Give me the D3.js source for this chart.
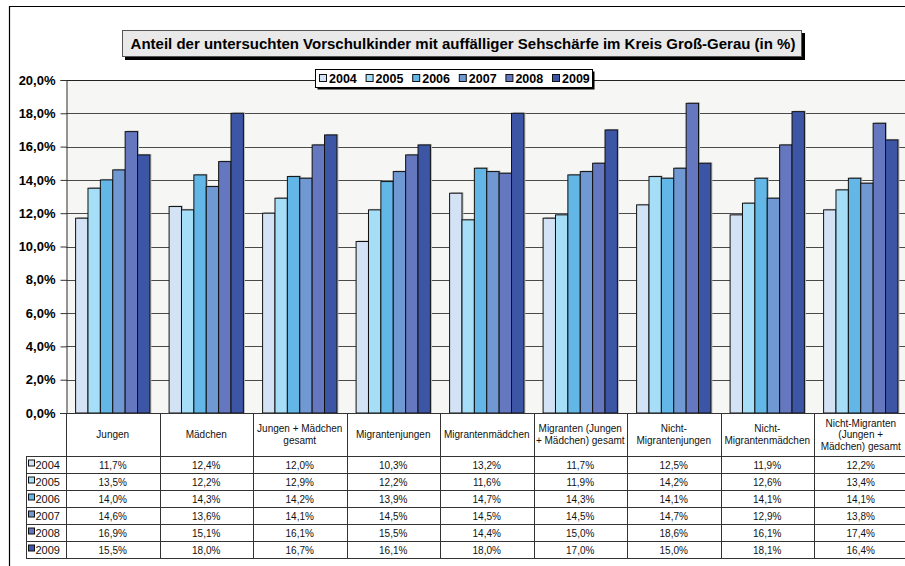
<!DOCTYPE html>
<html>
<head>
<meta charset="utf-8">
<script src="https://cdn.jsdelivr.net/npm/d3@7"></script>
<style>
  html, body { margin: 0; padding: 0; background: #fff; }
  svg { display: block; font-family: "Liberation Sans", Arial, sans-serif; }
</style>
</head>
<body>
<svg id="chart" width="905" height="566"></svg>
<script>
// Sehschärfe-Auffälligkeiten nach Gruppe und Jahr (in %)
const categories = [
  "Jungen", "Mädchen", "Jungen + Mädchen gesamt", "Migrantenjungen",
  "Migrantenmädchen", "Migranten (Jungen + Mädchen) gesamt",
  "Nicht-Migrantenjungen", "Nicht-Migrantenmädchen",
  "Nicht-Migranten (Jungen + Mädchen) gesamt"
];
const categoryLines = [
  ["Jungen"], ["Mädchen"], ["Jungen + Mädchen", "gesamt"], ["Migrantenjungen"],
  ["Migrantenmädchen"], ["Migranten (Jungen", "+ Mädchen) gesamt"],
  ["Nicht-", "Migrantenjungen"], ["Nicht-", "Migrantenmädchen"],
  ["Nicht-Migranten", "(Jungen +", "Mädchen) gesamt"]
];
const years = ["2004", "2005", "2006", "2007", "2008", "2009"];
const values2004 = [11.7, 12.4, 12.0, 10.3, 13.2, 11.7, 12.5, 11.9, 12.2];
const values2005 = [13.5, 12.2, 12.9, 12.2, 11.6, 11.9, 14.2, 12.6, 13.4];
const values2006 = [14.0, 14.3, 14.2, 13.9, 14.7, 14.3, 14.1, 14.1, 14.1];
const values2007 = [14.6, 13.6, 14.1, 14.5, 14.5, 14.5, 14.7, 12.9, 13.8];
const values2008 = [16.9, 15.1, 16.1, 15.5, 14.4, 15.0, 18.6, 16.1, 17.4];
const values2009 = [15.5, 18.0, 16.7, 16.1, 18.0, 17.0, 15.0, 18.1, 16.4];
const yTicks = [0, 2, 4, 6, 8, 10, 12, 14, 16, 18, 20];
const titleText = "Anteil der untersuchten Vorschulkinder mit auffälliger Sehschärfe im Kreis Groß-Gerau (in %)";

const seriesValues = [values2004, values2005, values2006, values2007, values2008, values2009];
const colors = ["#d3e3f5", "#a6def8", "#62b7e6", "#7099d3", "#6577be", "#3c55a5"];

const svg = d3.select("#chart");
const fmt = v => d3.format(".1f")(v).replace(".", ",") + "%";

// Outer frame
svg.append("rect").attr("x", 0).attr("y", 0).attr("width", 905).attr("height", 566).attr("fill", "#fff");
svg.append("path").attr("d", "M9.5,566 V6.5 H905").attr("fill", "none").attr("stroke", "#000").attr("stroke-width", 1.2);

const plotLeft = 66, plotTop = 80, plotBottom = 413, colW = 93.5;
const plotRight = plotLeft + colW * categories.length;

const x = d3.scaleBand().domain(categories).range([plotLeft, plotRight]).padding(0);
const xi = d3.scaleBand().domain(years).range([9.6, colW - 9.6]).padding(0);
const y = d3.scaleLinear().domain([0, 20]).range([plotBottom, plotTop]);
const color = d3.scaleOrdinal().domain(years).range(colors);

// Plot background
svg.append("rect")
  .attr("x", plotLeft).attr("y", plotTop)
  .attr("width", plotRight - plotLeft).attr("height", plotBottom - plotTop)
  .attr("fill", "#f6f6f4");

// Gridlines
svg.append("g").selectAll("line").data(yTicks.filter(t => t > 0)).join("line")
  .attr("x1", plotLeft).attr("x2", plotRight)
  .attr("y1", d => Math.round(y(d)) + 0.5).attr("y2", d => Math.round(y(d)) + 0.5)
  .attr("stroke", d => d === 20 ? "#222" : "#4a4a4a").attr("stroke-width", 1);

// Bars
const groups = svg.append("g").selectAll("g").data(categories).join("g")
  .attr("transform", d => `translate(${x(d)},0)`);
const barData = (c, ci) => years.map((yr, si) => ({ yr, v: seriesValues[si][ci] }));
groups.each(function (c, ci) {
  const g = d3.select(this);
  const data = barData(c, ci);
  g.selectAll("rect.shadow").data(data).join("rect").attr("class", "shadow")
    .attr("x", d => xi(d.yr) + 1.5).attr("y", d => y(d.v) - 1)
    .attr("width", xi.bandwidth()).attr("height", d => y(0) - y(d.v) + 1)
    .attr("fill", "#b8b8b8");
  g.selectAll("rect.bar").data(data).join("rect").attr("class", "bar")
    .attr("x", d => xi(d.yr)).attr("y", d => y(d.v))
    .attr("width", xi.bandwidth()).attr("height", d => y(0) - y(d.v))
    .attr("fill", d => color(d.yr)).attr("stroke", "#111").attr("stroke-width", 1);
});

// Y axis
const yAxis = d3.axisLeft(y).tickValues(yTicks).tickFormat(fmt).tickSize(6).tickPadding(5);
const ag = svg.append("g").attr("transform", `translate(${plotLeft + 0.5},0)`).call(yAxis);
ag.select(".domain").attr("stroke", "#333");
ag.selectAll(".tick line").attr("stroke", "#333");
ag.selectAll(".tick text").attr("font-size", "13px").attr("font-weight", "bold")
  .attr("fill", "#000").attr("font-family", "Liberation Sans, Arial, sans-serif");

// Data table
const headTop = plotBottom, rowTop = 456, rowH = 17, labelLeft = 26;
const table = svg.append("g");
const lineColor = "#333";
// horizontal lines
table.append("line").attr("x1", plotLeft - 6).attr("x2", plotRight)
  .attr("y1", headTop + 0.5).attr("y2", headTop + 0.5).attr("stroke", lineColor);
for (let r = 0; r <= years.length; r++) {
  table.append("line").attr("x1", labelLeft).attr("x2", plotRight)
    .attr("y1", rowTop + r * rowH + 0.5).attr("y2", rowTop + r * rowH + 0.5)
    .attr("stroke", lineColor);
}
// vertical lines
table.selectAll("line.v").data(d3.range(categories.length + 1)).join("line")
  .attr("class", "v")
  .attr("x1", i => Math.round(plotLeft + i * colW) + 0.5).attr("x2", i => Math.round(plotLeft + i * colW) + 0.5)
  .attr("y1", headTop).attr("y2", rowTop + years.length * rowH)
  .attr("stroke", lineColor);
table.append("line").attr("x1", labelLeft + 0.5).attr("x2", labelLeft + 0.5)
  .attr("y1", rowTop).attr("y2", rowTop + years.length * rowH).attr("stroke", lineColor);

// header labels
categories.forEach((c, ci) => {
  const lines = categoryLines[ci];
  const cx = x(c) + colW / 2;
  const lh = 11.5;
  const cy = (headTop + rowTop) / 2 + 3.5;
  const t = table.append("text").attr("text-anchor", "middle")
    .attr("font-size", "10px").attr("fill", "#111");
  lines.forEach((ln, li) => {
    t.append("tspan").attr("x", cx).attr("y", cy + (li - (lines.length - 1) / 2) * lh).text(ln);
  });
});

// rows
years.forEach((yr, si) => {
  const ty = rowTop + si * rowH + rowH / 2 + 4;
  table.append("rect").attr("x", 28.5).attr("y", ty - 8.5).attr("width", 6).attr("height", 6)
    .attr("fill", color(yr)).attr("stroke", "#111").attr("stroke-width", 1);
  table.append("text").attr("x", 35.5).attr("y", ty).attr("font-size", "11px").attr("fill", "#111").text(yr);
  categories.forEach((c, ci) => {
    table.append("text").attr("x", x(c) + colW / 2).attr("y", ty)
      .attr("text-anchor", "middle").attr("font-size", "10px").attr("fill", "#111")
      .text(fmt(seriesValues[si][ci]));
  });
});

// Legend
const lg = svg.append("g");
lg.append("rect").attr("x", 317.5).attr("y", 71.5).attr("width", 277).attr("height", 18).attr("fill", "#000");
lg.append("rect").attr("x", 315.5).attr("y", 69.5).attr("width", 277).attr("height", 18)
  .attr("fill", "#fff").attr("stroke", "#000");
years.forEach((yr, i) => {
  const lx = 319 + i * 46.6;
  lg.append("rect").attr("x", lx + 0.5).attr("y", 74.5).attr("width", 7).attr("height", 7)
    .attr("fill", color(yr)).attr("stroke", "#111");
  lg.append("text").attr("x", lx + 10).attr("y", 83).attr("font-size", "12.5px")
    .attr("font-weight", "bold").attr("fill", "#000").text(yr);
});

// Title
const tg = svg.append("g");
tg.append("rect").attr("x", 125).attr("y", 33).attr("width", 680).attr("height", 27).attr("fill", "#000");
tg.append("rect").attr("x", 122.5).attr("y", 30.5).attr("width", 679).attr("height", 26)
  .attr("fill", "#e9e9e9").attr("stroke", "#555");
tg.append("text").attr("x", 463).attr("y", 48.5).attr("text-anchor", "middle")
  .attr("font-size", "15px").attr("font-weight", "bold").attr("fill", "#000").text(titleText);
</script>
</body>
</html>
